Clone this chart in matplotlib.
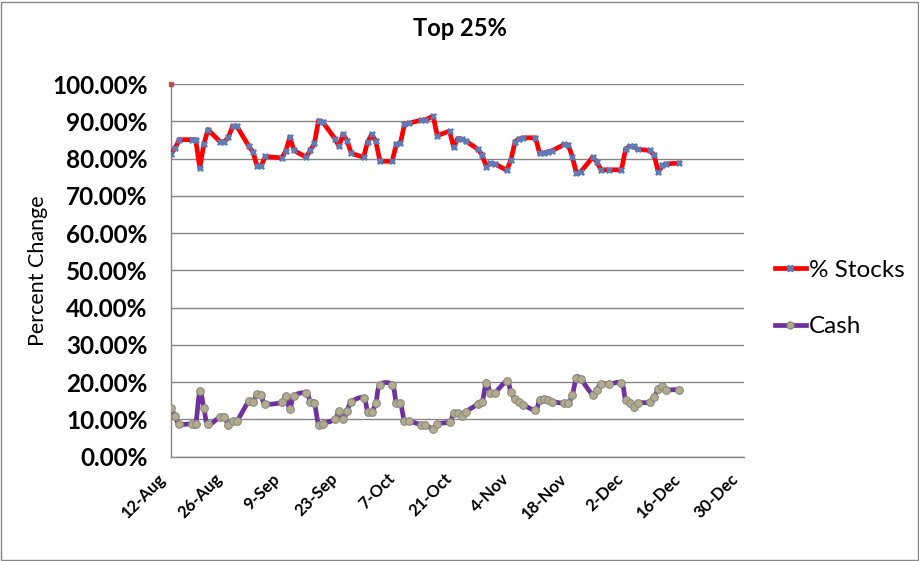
#!/usr/bin/env python3
"""Top 25% allocation chart: % Stocks vs Cash, daily, Aug-Dec."""
import matplotlib
matplotlib.use("Agg")
import matplotlib.pyplot as plt
import numpy as np
import pandas as pd
import matplotlib.dates as mdates
import matplotlib.transforms as mtransforms
from matplotlib.path import Path
from matplotlib.patches import PathPatch, Rectangle
from matplotlib.lines import Line2D
from matplotlib.ticker import FuncFormatter, MultipleLocator

plt.rcParams["font.family"] = ["Lato", "DejaVu Sans"]

YEAR = 2015
dates = [
    "08-12", "08-13", "08-14", "08-17", "08-18", "08-19", "08-20", "08-21",
    "08-24", "08-25", "08-26", "08-27", "08-28", "08-31", "09-01", "09-02",
    "09-03", "09-04", "09-08", "09-09", "09-10", "09-11", "09-14", "09-15",
    "09-16", "09-17", "09-18", "09-21", "09-22", "09-23", "09-24", "09-25",
    "09-28", "09-29", "09-30", "10-01", "10-02", "10-05", "10-06", "10-07",
    "10-08", "10-09", "10-12", "10-13", "10-15", "10-16", "10-19", "10-20",
    "10-21", "10-22", "10-23", "10-26", "10-27", "10-28", "10-29", "10-30",
    "11-02", "11-03", "11-04", "11-05", "11-06", "11-09", "11-10", "11-11",
    "11-12", "11-13", "11-16", "11-17", "11-18", "11-19", "11-20", "11-23",
    "11-24", "11-25", "11-27", "11-30", "12-01", "12-02", "12-03", "12-04",
    "12-07", "12-08", "12-09", "12-10", "12-11", "12-14",
]
stocks = [
    81.2, 82.9, 85.1, 85.1, 85.1, 77.5, 83.9, 87.8,
    84.5, 84.5, 85.7, 88.7, 88.8, 83.3, 81.8, 78.0,
    78.0, 80.6, 80.2, 82.0, 85.8, 82.2, 80.4, 82.2,
    84.1, 90.2, 89.9, 85.4, 83.3, 86.6, 84.8, 81.4,
    80.4, 84.5, 86.5, 84.7, 79.3, 79.3, 83.9, 84.1,
    89.3, 89.5, 90.3, 90.4, 91.4, 86.2, 87.4, 83.1,
    85.4, 85.3, 84.7, 82.5, 80.9, 77.8, 78.7, 78.6,
    76.9, 79.7, 84.5, 85.3, 85.6, 85.6, 81.5, 81.5,
    81.8, 82.1, 83.8, 83.7, 80.5, 76.1, 76.4, 80.4,
    79.1, 77.0, 77.0, 77.0, 82.5, 83.3, 83.3, 82.5,
    82.2, 80.9, 76.4, 78.2, 78.6, 78.8,
]
cash = [
    13.0, 10.8, 8.8, 8.8, 8.7, 17.5, 13.1, 8.7,
    10.7, 10.7, 8.5, 9.5, 9.5, 14.9, 14.8, 16.7,
    16.5, 14.2, 14.6, 16.4, 12.8, 16.3, 17.1, 14.8,
    14.3, 8.6, 8.9, 10.0, 12.2, 10.0, 12.2, 14.7,
    15.8, 12.1, 12.1, 14.4, 19.3, 19.3, 14.4, 14.4,
    9.6, 9.6, 8.6, 8.6, 7.5, 8.8, 9.4, 11.6,
    11.6, 11.0, 12.1, 14.1, 14.8, 19.8, 17.1, 17.1,
    20.2, 17.3, 15.5, 14.8, 13.9, 12.6, 15.3, 15.5,
    15.3, 14.8, 14.3, 14.3, 16.6, 21.1, 20.9, 16.6,
    18.0, 19.5, 19.5, 19.7, 15.2, 14.3, 13.2, 14.4,
    14.6, 15.9, 18.2, 18.9, 18.0, 18.0,
]
# lone point plotted at the first date (shown in the original, not in legend)
stray_dates = ["08-12"]
stray_vals = [100.0]

tick_dates = ["08-12", "08-26", "09-09", "09-23", "10-07", "10-21",
              "11-04", "11-18", "12-02", "12-16", "12-30"]


def to_dt(mmdd):
    return pd.to_datetime([f"{YEAR}-{d}" for d in mmdd])


def smooth_path(x, y):
    """Excel-style smoothed line: Catmull-Rom segments as cubic Beziers."""
    pts = np.column_stack([x, y])
    n = len(pts)
    verts = [pts[0]]
    codes = [Path.MOVETO]
    for i in range(n - 1):
        p0 = pts[i - 1] if i > 0 else pts[i]
        p1 = pts[i]
        p2 = pts[i + 1]
        p3 = pts[i + 2] if i + 2 < n else pts[i + 1]
        verts += [p1 + (p2 - p0) / 6, p2 - (p3 - p1) / 6, p2]
        codes += [Path.CURVE4] * 3
    return Path(verts, codes)


x = mdates.date2num(to_dt(dates))
xt = mdates.date2num(to_dt(tick_dates))

fig = plt.figure(figsize=(9.2, 5.61), dpi=100)
ax = fig.add_axes([0.186, 0.186, 0.623, 0.664])

RED = "#FF0000"
PURPLE = "#7030A0"
XBLUE = "#5B7DBA"
TAN = "#B3AC8C"

# cash: smoothed purple line with tan dots
ax.add_patch(PathPatch(smooth_path(x, cash), fill=False, edgecolor=PURPLE,
                       lw=3.4, capstyle="round", joinstyle="round", zorder=3))
ax.plot(x, cash, ls="none", marker="o", ms=5.5, mfc=TAN, mec="#8A8A80",
        mew=0.8, zorder=4)

# stocks: straight red line with blue x markers
ax.plot(x, stocks, color=RED, lw=3.4, solid_joinstyle="round", zorder=3)
ax.plot(x, stocks, ls="none", marker="X", ms=5, mfc=XBLUE, mec=XBLUE,
        mew=0.4, zorder=4)

ax.plot(mdates.date2num(to_dt(stray_dates)), stray_vals, ls="none",
        marker="s", ms=3.5, color="#C0504D", zorder=4, clip_on=False)

ax.set_xlim(xt[0], xt[-1])
ax.set_ylim(0, 100)
ax.set_xticks(xt)
ax.xaxis.set_major_formatter(FuncFormatter(
    lambda v, _: mdates.num2date(v).strftime("%d-%b").lstrip("0")))
ax.yaxis.set_major_locator(MultipleLocator(10))
ax.yaxis.set_major_formatter(FuncFormatter(lambda v, _: f"{v:.2f}%"))

ax.grid(True, axis="y", color="#868686", lw=1)
ax.set_axisbelow(True)
for s in ("top", "right"):
    ax.spines[s].set_visible(False)
for s in ("left", "bottom"):
    ax.spines[s].set_color("#868686")
    ax.spines[s].set_linewidth(1)

ax.tick_params(axis="y", length=0, pad=17, labelsize=17.5)
ax.tick_params(axis="x", length=0, pad=14, labelsize=12)
shift = mtransforms.ScaledTranslation(-6 / 72, 0, fig.dpi_scale_trans)
for lab in ax.get_yticklabels():
    lab.set_fontweight("bold")
for lab in ax.get_xticklabels():
    lab.set_fontweight("bold")
    lab.set_rotation(45)
    lab.set_ha("right")
    lab.set_va("center")
    lab.set_rotation_mode("anchor")
    lab.set_transform(lab.get_transform() + shift)

ax.set_ylabel("Percent Change", fontsize=15.5, labelpad=3)
fig.text(0.5, 0.95, "Top 25%", ha="center", va="center",
         fontsize=17, fontweight="bold")

handles = [
    Line2D([], [], color=RED, lw=3.4, marker="X", ms=5, mfc=XBLUE, mec=XBLUE),
    Line2D([], [], color=PURPLE, lw=3.4, marker="o", ms=5, mfc=TAN,
           mec="#8A8A80"),
]
fig.legend(handles, ["% Stocks", "Cash"], loc="center left",
           bbox_to_anchor=(0.842, 0.468), frameon=False, fontsize=17.5,
           handlelength=1.3, handletextpad=0.1, labelspacing=1.45,
           borderpad=0, borderaxespad=0, numpoints=1)

fig.add_artist(Rectangle((0.001, 0.002), 0.997, 0.995,
                         transform=fig.transFigure, fill=False,
                         edgecolor="#868686", lw=1))

fig.savefig("out.png", dpi=100)
